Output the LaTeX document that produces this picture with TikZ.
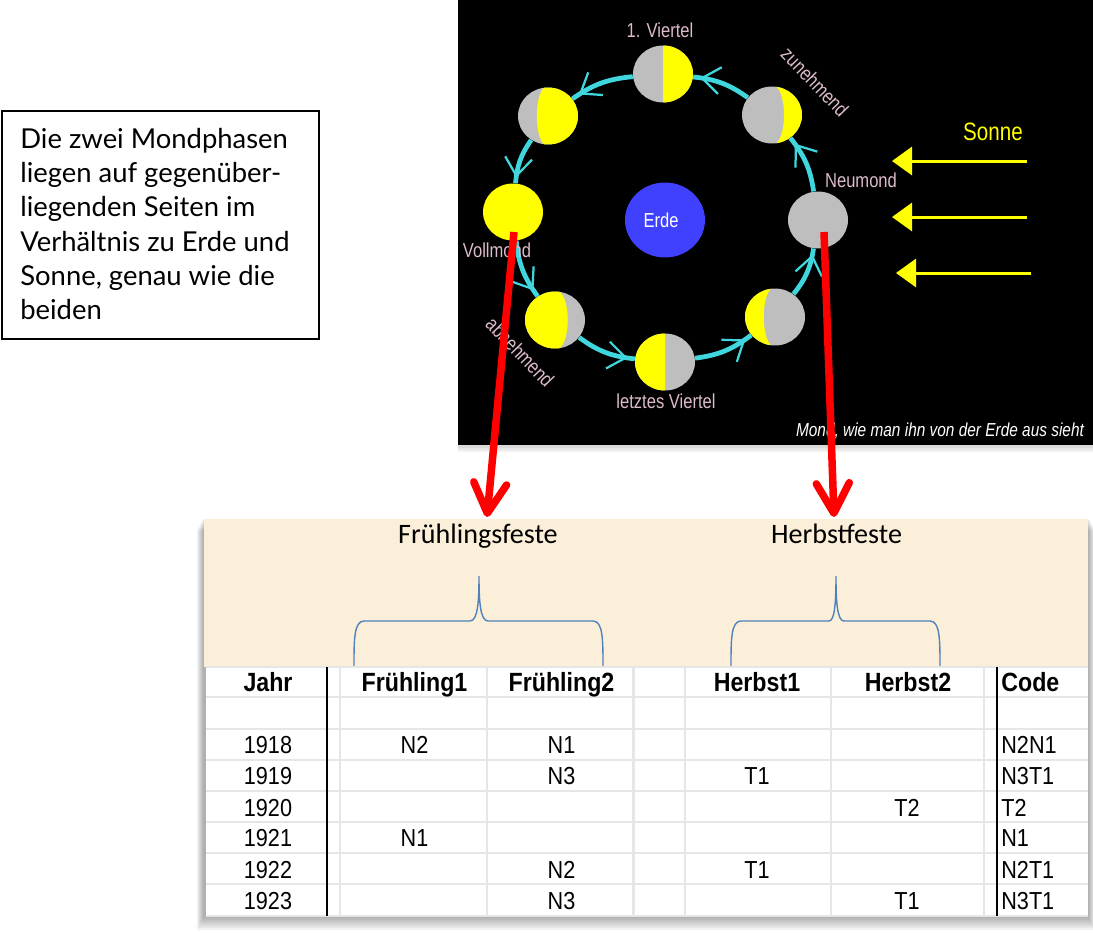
\documentclass[tikz,border=0pt]{standalone}
\usepackage{fontspec}
\setmainfont{Lato}
\newfontfamily\noteFont{Carlito}
\newfontfamily\tableFont[FakeStretch=0.88]{Liberation Sans}
\newfontfamily\photoFont[FakeStretch=0.82]{Liberation Sans}
\usetikzlibrary{arrows.meta,decorations.markings,shapes.geometric}

\definecolor{moonGray}{HTML}{BEBEBE}
\definecolor{moonYellow}{HTML}{FFFF00}
\definecolor{orbitCyan}{HTML}{3FD6DE}
\definecolor{earthBlue}{HTML}{4040FF}
\definecolor{labelPink}{HTML}{DDBBCC}
\definecolor{parchment}{HTML}{FBEFD9}
\definecolor{gridGray}{HTML}{E6E6E6}
\definecolor{braceBlue}{HTML}{4F81BD}

\tikzset{
  moon/.style={ellipse,inner sep=0pt,minimum width=1.2cm,minimum height=1.14cm,fill=moonGray},
  lit/.style 2 args={moon,path picture={
    \fill[moonYellow,shift={(path picture bounding box.center)}] (0,-30) .. controls (#2,-30) and (#2,30) .. (0,30) -- (#1,30) -- (#1,-30) -- cycle;}},
  orbit/.style={line width=.95mm,draw=orbitCyan,postaction={decorate},decoration={markings,mark=at position 0.88 with {\arrow{Straight Barb[length=3.6mm,width=5.4mm,line width=.45mm]}}}},
  photoLabel/.style={text=labelPink,font=\photoFont\fontsize{11.5}{13}\selectfont,inner sep=0pt},
  sunRay/.style={line width=.6mm,draw=moonYellow,-{Triangle[length=4mm,width=5.6mm,fill=moonYellow]}},
  redPointer/.style={line width=1.5mm,draw=red,-{Straight Barb[length=6mm,width=6.6mm,line width=1.5mm,round]}},
  grid/.style={line width=.5mm,draw=gridGray},
  yearLine/.style={line width=.4mm,draw=black},
  cell/.style={font=\tableFont\fontsize{14}{15}\selectfont,inner sep=0pt,anchor=base},
  head/.style={font=\tableFont\bfseries\fontsize{15}{15}\selectfont,inner sep=0pt,anchor=base},
  feast/.style={font=\noteFont\fontsize{16}{18}\selectfont,inner sep=0pt,anchor=base},
  bracket/.style={line width=.28mm,draw=braceBlue},
  softShadow/.style={fill=black,opacity=.05,draw=none}
}

\begin{document}
\begin{tikzpicture}[x=0.02cm,y=-0.02cm]
    \useasboundingbox (0,0) rectangle (1093,933);

    % note
    \node[draw,line width=.4mm,anchor=north west,minimum width=6.34cm,minimum height=4.56cm,inner sep=0pt] (noteBox) at (1,110) {};
    \node[anchor=north west,align=left,inner sep=0pt,font=\fontsize{15.6}{19.45}\selectfont] (noteText) at (20,128) {Die zwei Mondphasen\\liegen auf gegenüber-\\liegenden Seiten im\\Verhältnis zu Erde und\\Sonne, genau wie die\\beiden};

    % photo
    \fill[softShadow] (458,0) rectangle (1093,452);
    \fill[softShadow] (458,0) rectangle (1093,450);
    \fill[softShadow] (458,0) rectangle (1093,448);
    \node[fill=black,anchor=north west,minimum width=12.7cm,minimum height=8.9cm,inner sep=0pt] (photo) at (458,0) {};

    % moons
    \node[lit={40}{0}] (firstQuarter) at (663,74) {};
    \node[lit={40}{16}] (waxing) at (772,115) {};
    \node[lit={40}{-15}] (gibbous) at (548,116) {};
    \node[moon,fill=moonYellow] (fullMoon) at (513,212) {};
    \node[moon] (newMoon) at (818,220) {};
    \node[lit={-40}{17}] (waning) at (555,320) {};
    \node[lit={-40}{-15}] (crescent) at (775,317) {};
    \node[lit={-40}{0}] (lastQuarter) at (665,362) {};
    \node[ellipse,fill=earthBlue,minimum width=1.6cm,minimum height=1.5cm,inner sep=0pt] (earth) at (665,220) {};

    % moons - orbit
    \draw[orbit] (newMoon) to[bend right=15] (waxing);
    \draw[orbit] (waxing) to[bend right=15] (firstQuarter);
    \draw[orbit] (firstQuarter) to[bend right=15] (gibbous);
    \draw[orbit] (gibbous) to[bend right=15] (fullMoon);
    \draw[orbit] (fullMoon) to[bend right=15] (waning);
    \draw[orbit] (waning) to[bend right=15] (lastQuarter);
    \draw[orbit] (lastQuarter) to[bend right=15] (crescent);
    \draw[orbit] (crescent) to[bend right=15] (newMoon);

    % photo labels
    \node[photoLabel] (firstLabel) at (660,30) {1. Viertel};
    \node[photoLabel,rotate=-46] (waxLabel) at (815,82) {zunehmend};
    \node[photoLabel] (newLabel) at (861,180) {Neumond};
    \node[photoLabel] (fullLabel) at (497,250) {Vollmond};
    \node[photoLabel,rotate=-46] (waneLabel) at (520,352) {abnehmend};
    \node[photoLabel] (lastLabel) at (666,401) {letztes Viertel};
    \node[photoLabel,text=white] (earthLabel) at (661,220) {Erde};
    \node[photoLabel,text=moonYellow,font=\photoFont\fontsize{14.3}{16}\selectfont] (sunLabel) at (993,132) {Sonne};
    \node[photoLabel,text=white,font=\photoFont\itshape\fontsize{10.7}{13}\selectfont] (captionLabel) at (940,431) {Mond, wie man ihn von der Erde aus sieht};

    % sun rays
    \coordinate (rayA) at (1027,161);
    \coordinate (rayAend) at (892,161);
    \coordinate (rayB) at (1027,217);
    \coordinate (rayBend) at (892,217);
    \coordinate (rayC) at (1031,273);
    \coordinate (rayCend) at (896,273);
    \draw[sunRay] (rayA) to (rayAend);
    \draw[sunRay] (rayB) to (rayBend);
    \draw[sunRay] (rayC) to (rayCend);

    % table shadow
    \fill[softShadow] (197,530) rectangle (1093,930);
    \fill[softShadow] (198,528) rectangle (1093,928);
    \fill[softShadow] (199,526) rectangle (1093,926);
    \fill[softShadow] (200,524) rectangle (1092,924);
    \fill[softShadow] (201,522) rectangle (1091,922);
    \fill[softShadow] (202,520) rectangle (1090,920);
    \fill[softShadow] (203,519) rectangle (1089,918);

    % parchment and table
    \node[fill=parchment,anchor=north west,minimum width=17.68cm,minimum height=2.96cm,inner sep=0pt] (parchmentBox) at (204,519) {};
    \node[fill=white,anchor=north west,minimum width=17.64cm,minimum height=4.98cm,inner sep=0pt] (tableBox) at (206,667) {};

    % feast titles
    \node[feast] (springFeast) at (478,543.5) {Frühlingsfeste};
    \node[feast] (autumnFeast) at (836.5,543.5) {Herbstfeste};

    % brackets
    \draw[bracket] (354,666) .. controls (354,640) and (354,621) .. (364,621) -- (470,621) .. controls (478,621) and (479,600) .. (479,576) .. controls (479,600) and (480,621) .. (488,621) -- (593,621) .. controls (603,621) and (603,640) .. (603,666);
    \draw[bracket] (731,666) .. controls (731,640) and (731,621) .. (741,621) -- (829,621) .. controls (835,621) and (836,600) .. (836,576) .. controls (836,600) and (837,621) .. (844,621) -- (930,621) .. controls (940,621) and (940,640) .. (940,666);

    % grid rows
    \draw[grid] (206,667) -- (1088,667);
    \draw[grid] (206,697) -- (1088,697);
    \draw[grid] (206,729) -- (1088,729);
    \draw[grid] (206,760) -- (1088,760);
    \draw[grid] (206,791) -- (1088,791);
    \draw[grid] (206,822) -- (1088,822);
    \draw[grid] (206,853) -- (1088,853);
    \draw[grid] (206,884) -- (1088,884);
    \draw[grid] (206,916) -- (1088,916);

    % grid columns
    \draw[grid] (340,667) -- (340,916);
    \draw[grid] (487,667) -- (487,916);
    \draw[grid] (633.5,667) -- (633.5,916);
    \draw[grid] (685,667) -- (685,916);
    \draw[grid] (831,667) -- (831,916);
    \draw[grid] (984,667) -- (984,916);
    \draw[yearLine] (327,667) -- (327,916);
    \draw[yearLine] (996.5,667) -- (996.5,916);

    % header
    \node[head] (jahr) at (268,691) {Jahr};
    \node[head] (spring1) at (414.5,691) {Frühling1};
    \node[head] (spring2) at (561.5,691) {Frühling2};
    \node[head] (autumn1) at (757,691) {Herbst1};
    \node[head] (autumn2) at (908,691) {Herbst2};
    \node[head,anchor=base west] (code) at (1001,691) {Code};

    % years
    \node[cell] (y18) at (268,753) {1918};
    \node[cell] (y19) at (268,784) {1919};
    \node[cell] (y20) at (268,816) {1920};
    \node[cell] (y21) at (268,846) {1921};
    \node[cell] (y22) at (268,878) {1922};
    \node[cell] (y23) at (268,909) {1923};

    % spring columns
    \node[cell] (s18a) at (414.5,753) {N2};
    \node[cell] (s18b) at (561.5,753) {N1};
    \node[cell] (s19b) at (561.5,784) {N3};
    \node[cell] (s21a) at (414.5,846) {N1};
    \node[cell] (s22b) at (561.5,878) {N2};
    \node[cell] (s23b) at (561.5,909) {N3};

    % autumn columns
    \node[cell] (a19a) at (757,784) {T1};
    \node[cell] (a20b) at (907,816) {T2};
    \node[cell] (a22a) at (757,878) {T1};
    \node[cell] (a23b) at (907,909) {T1};

    % code column
    \node[cell,anchor=base west] (c18) at (1001,753) {N2N1};
    \node[cell,anchor=base west] (c19) at (1001,784) {N3T1};
    \node[cell,anchor=base west] (c20) at (1001,816) {T2};
    \node[cell,anchor=base west] (c21) at (1001,846) {N1};
    \node[cell,anchor=base west] (c22) at (1001,878) {N2T1};
    \node[cell,anchor=base west] (c23) at (1001,909) {N3T1};

    % moons to feasts
    \coordinate (fullPin) at (514,232);
    \coordinate (springTip) at (487,517);
    \coordinate (newPin) at (824,232);
    \coordinate (autumnTip) at (834,517);
    \draw[redPointer] (fullPin) to (springTip);
    \draw[redPointer] (newPin) to (autumnTip);

\end{tikzpicture}
\end{document}
